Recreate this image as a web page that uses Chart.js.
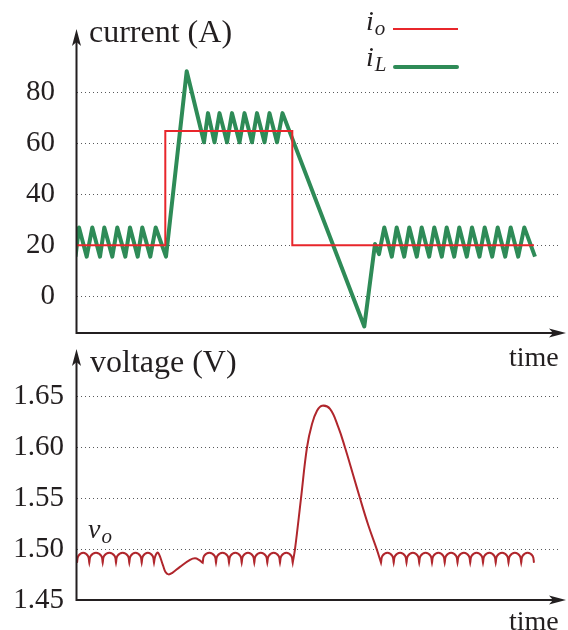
<!DOCTYPE html>
<html lang="en">
<head>
    <meta charset="UTF-8">
    <title>Inductor current and output voltage</title>
    <script src="https://cdn.jsdelivr.net/npm/chart.js@4.4.1/dist/chart.umd.min.js"></script>
    <style>
        body { margin: 0; background: #fff; }
        #wrap { position: relative; width: 568px; height: 630px; overflow: hidden; }
        canvas { position: absolute; left: 0; }
        .lbl { position: absolute; font: 28px 'Liberation Serif', serif; line-height: 28px; color: #231f20; white-space: nowrap; z-index: 2; }
        .title { font-size: 32px; line-height: 32px; }
        .it { font-style: italic; }
        .sub { font-size: 21px; position: relative; top: 5px; margin-left: 1px; }
        .swatch { position: absolute; z-index: 2; }
    </style>
</head>
<body>
    <div id="wrap">
        <canvas id="currentChart" width="568" height="373" style="top:0"></canvas>
        <canvas id="voltageChart" width="568" height="302" style="top:329px"></canvas>

        <div class="lbl title" style="left:89px; top:15px">current (A)</div>
        <div class="lbl title" style="left:90px; top:345px">voltage (V)</div>
        <div class="lbl" style="left:509px; top:343px">time</div>
        <div class="lbl" style="left:509px; top:607px">time</div>

        <div class="lbl it" style="left:366px; top:7px">i<span class="sub">o</span></div>
        <div class="swatch" style="left:393px; top:28px; width:65px; height:2px; background:#e8262b"></div>
        <div class="lbl it" style="left:366px; top:43px">i<span class="sub">L</span></div>
        <div class="swatch" style="left:393px; top:65px; width:66px; height:4px; border-radius:2px; background:#2e8b57"></div>
        <div class="lbl it" style="left:88px; top:515px">v<span class="sub">o</span></div>
    </div>

    <script>
        // tick values
        const currentTicks = [0, 20, 40, 60, 80];
        const voltageTicks = [1.45, 1.50, 1.55, 1.60, 1.65];

        // output current i_o (time in arbitrary units)
        const ioTime = [0, 88.3, 88.3, 215.3, 215.3, 457];
        const ioAmps = [20, 20, 65, 65, 20, 20];

        // inductor current i_L
        const iLTime = [-1.5, 2, 9.7, 15.3, 23, 27.3, 35.3, 40.3, 48.3, 53, 60.7, 65.3, 73.3, 78.7, 89,
            109.7, 127, 131, 137.5, 142.5, 150, 155, 162.5, 167.5, 175, 180, 187.5, 192.5, 200, 205.5,
            287.3, 298, 302, 307.3, 314.8, 319.7, 327.2, 332.3, 339.8, 344.7, 352.2, 357.3, 364.8, 369.7,
            377.2, 382.3, 389.8, 395, 402.5, 407.7, 415.2, 420.7, 428.2, 433.7, 441.2, 447.3, 458];
        const iLAmps = [15.5, 27, 15.5, 27, 15.5, 27, 15.5, 27, 15.5, 27, 15.5, 27, 15.5, 27, 15.5,
            88.5, 60.5, 72, 60.5, 72, 60.5, 72, 60.5, 72, 60.5, 72, 60.5, 72, 60.5, 72,
            -12, 20.5, 16.5, 27, 15.5, 27, 15.5, 27, 15.5, 27, 15.5, 27, 15.5, 27,
            15.5, 27, 15.5, 27, 15.5, 27, 15.5, 27, 15.5, 27, 15.5, 27, 15.5];

        // output voltage v_o: ripple cusps / arch tops, plus the two transients
        const vLow = 1.4866;       // cusp level
        const vShoulder = 1.4934;  // level just beside a cusp
        const vHigh = 1.4965;      // arch top
        const shoulderGap = 1.4;
        const vCusps1 = [0, 12.3, 25.7, 39, 52.3, 64.7, 77];
        const vTops1 = [6.2, 19, 32.3, 45.7, 58.5, 70.9];
        const vDipTime = [78.4, 81, 86, 88.5, 91.5, 95, 103, 113, 118, 122];
        const vDipVolt = [1.4934, 1.4965, 1.484, 1.4775, 1.4752, 1.4765, 1.4826, 1.4895, 1.491, 1.4895];
        const vCusps2 = [125.7, 139, 152, 164.7, 177.3, 190.3, 203, 215.7];
        const vTops2 = [132.3, 145.5, 158.3, 171, 183.8, 196.7, 209.3];
        const vPeakTime = [218, 224, 230, 235, 240, 245, 253, 261.3, 268, 276.3, 283, 291.3, 299.7];
        const vPeakVolt = [1.50, 1.55, 1.60, 1.623, 1.636, 1.641, 1.638, 1.620, 1.60, 1.5725, 1.55, 1.5235, 1.50];
        const vCusps3 = [304, 316.7, 329.5, 342.2, 355, 367.7, 380.5, 393.2, 406, 418.7, 431.5, 444.2, 457];
        const vTops3 = [310.4, 323.1, 335.9, 348.6, 361.4, 374.1, 386.9, 399.6, 412.4, 425.1, 437.9, 450.6];

        const AXIS = '#231f20';
        const FONT = { family: "'Liberation Serif', serif", size: 29 };

        function pairs(xs, ys) {
            return xs.map((x, i) => ({ x: x, y: ys[i] }));
        }

        // each cusp is given twice so the curve keeps a sharp point there
        function ripple(cusps, tops) {
            const pts = [];
            cusps.forEach((c, i) => {
                pts.push({ x: c, y: vLow }, { x: c, y: vLow });
                if (i < tops.length) {
                    pts.push({ x: c + shoulderGap, y: vShoulder },
                             { x: tops[i], y: vHigh },
                             { x: cusps[i + 1] - shoulderGap, y: vShoulder });
                }
            });
            return pts;
        }

        function drawArrow(ctx, x, y, dx, dy) {
            const len = 17, half = 4.5, notch = 13;
            const px = -dy, py = dx;
            ctx.beginPath();
            ctx.moveTo(x, y);
            ctx.lineTo(x - dx * len + px * half, y - dy * len + py * half);
            ctx.lineTo(x - dx * notch, y - dy * notch);
            ctx.lineTo(x - dx * len - px * half, y - dy * len - py * half);
            ctx.closePath();
            ctx.fill();
        }

        const axisArrows = {
            id: 'axisArrows',
            afterDraw(chart, args, opts) {
                const { ctx, chartArea: a } = chart;
                const x0 = a.left - 0.5;
                const y0 = a.bottom;
                ctx.save();
                ctx.strokeStyle = AXIS;
                ctx.fillStyle = AXIS;
                ctx.lineWidth = 2;
                ctx.beginPath();
                ctx.moveTo(x0, y0 + 1);
                ctx.lineTo(x0, opts.tipY + 10);
                ctx.moveTo(x0 - 1, y0);
                ctx.lineTo(opts.tipX - 10, y0);
                ctx.stroke();
                drawArrow(ctx, x0, opts.tipY, 0, -1);
                drawArrow(ctx, opts.tipX, y0, 1, 0);
                ctx.restore();
            }
        };

        function baseOptions(yMin, yMax, ticks, pad, labelPad, fmt, tipY) {
            return {
                responsive: false,
                animation: false,
                devicePixelRatio: 1,
                layout: { padding: pad },
                plugins: {
                    legend: { display: false },
                    tooltip: { enabled: false },
                    axisArrows: { tipX: 566, tipY: tipY }
                },
                elements: { point: { radius: 0 } },
                scales: {
                    x: { type: 'linear', min: 0, max: 483, display: false },
                    y: {
                        min: yMin,
                        max: yMax,
                        afterBuildTicks(scale) { scale.ticks = ticks.map(v => ({ value: v })); },
                        afterFit(scale) { scale.width = 77; },
                        ticks: { padding: labelPad, autoSkip: false, color: AXIS, font: FONT, callback: fmt },
                        grid: { color: '#58595b', lineWidth: 1, drawTicks: false },
                        border: { display: false, dash: [1, 3] }
                    }
                }
            };
        }

        new Chart(document.getElementById('currentChart'), {
            type: 'line',
            data: {
                datasets: [
                    {
                        label: 'i_o',
                        data: pairs(ioTime, ioAmps),
                        borderColor: '#e8262b',
                        borderWidth: 2,
                        borderJoinStyle: 'miter',
                        tension: 0
                    },
                    {
                        label: 'i_L',
                        data: pairs(iLTime, iLAmps),
                        borderColor: '#2e8b57',
                        borderWidth: 4,
                        borderJoinStyle: 'round',
                        tension: 0
                    }
                ]
            },
            options: baseOptions(-14.56, 100, currentTicks,
                { left: 0, top: 42, right: 8, bottom: 40 }, 22, v => String(v), 29),
            plugins: [axisArrows]
        });

        new Chart(document.getElementById('voltageChart'), {
            type: 'line',
            data: {
                datasets: [{
                    label: 'v_o',
                    data: [
                        ...ripple(vCusps1, vTops1),
                        ...pairs(vDipTime, vDipVolt),
                        ...ripple(vCusps2, vTops2),
                        ...pairs(vPeakTime, vPeakVolt),
                        ...ripple(vCusps3, vTops3)
                    ],
                    borderColor: '#b0262c',
                    borderWidth: 2,
                    tension: 0.4
                }]
            },
            options: baseOptions(1.45, 1.686, voltageTicks,
                { left: 0, top: 31, right: 8, bottom: 31 }, 13, v => v.toFixed(2), 20),
            plugins: [axisArrows]
        });
    </script>
</body>
</html>
